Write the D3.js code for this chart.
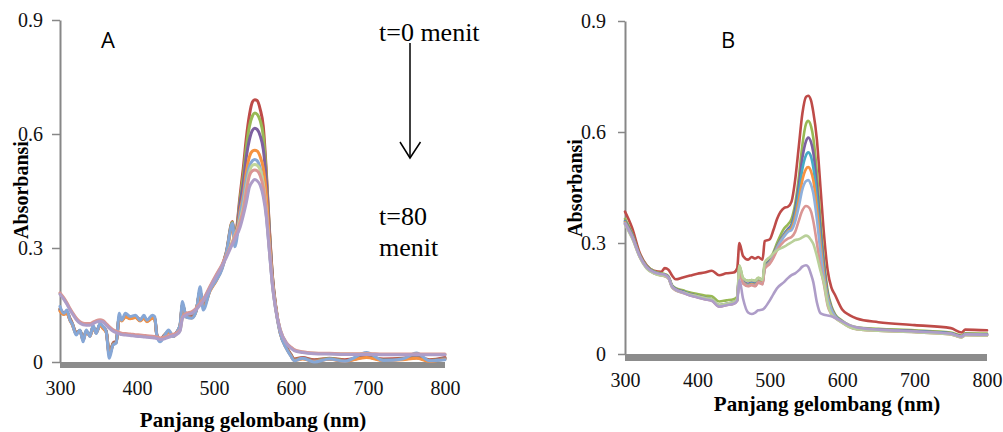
<!DOCTYPE html>
<html>
<head>
<meta charset="utf-8">
<script src="https://cdn.jsdelivr.net/npm/d3@7"></script>
<style>
  body { margin: 0; background: #fff; }
  svg { display: block; }
  .tick text { font-family: 'Liberation Serif', 'Times New Roman', serif; font-size: 20px; }
</style>
</head>
<body>
<svg width="1003" height="432"></svg>
<script>
(function () {
  'use strict';

  // ---------- data ----------
  const xTicks = [300, 400, 500, 600, 700, 800];
  const yTicks = [0, 0.3, 0.6, 0.9];
  const xTitle = "Panjang gelombang (nm)";
  const yTitle = "Absorbansi";

  // panel A wavelengths (nm)
  const waveA = [300,305,309,313,316,321,326,330,334,339,343,347,352,356,360,364,369,373,377,380,
    385,391,398,404,409,413,420,423,426,430,436,441,447,452,456,459,464,471,477,482,
    486,495,503,510,516,524,527,534,538,542,546,550,553,556,560,564,568,572,576,580,
    586,594,600,604,615,630,650,670,698,720,745,763,780,800];

  const redA = [0.140,0.130,0.132,0.115,0.102,0.078,0.082,0.062,0.080,0.072,
    0.092,0.080,0.098,0.092,0.082,0.025,0.050,0.055,0.118,0.112,
    0.122,0.117,0.120,0.112,0.118,0.110,0.118,0.116,0.070,0.060,
    0.072,0.080,0.070,0.080,0.098,0.150,0.122,0.120,0.138,0.185,
    0.150,0.192,0.220,0.250,0.290,0.370,0.330,0.440,0.510,0.590,
    0.650,0.685,0.690,0.688,0.665,0.620,0.500,0.350,0.225,0.150,
    0.080,0.040,0.020,0.008,0.012,0.006,0.010,0.006,0.015,0.008,
    0.010,0.014,0.006,0.012];
  const greenA = [0.138,0.127,0.130,0.112,0.100,0.076,0.083,0.060,0.081,0.070,
    0.093,0.078,0.099,0.090,0.080,0.022,0.048,0.053,0.120,0.110,
    0.121,0.116,0.119,0.110,0.117,0.108,0.117,0.115,0.068,0.058,
    0.071,0.081,0.069,0.079,0.097,0.152,0.120,0.118,0.137,0.188,
    0.148,0.191,0.218,0.248,0.288,0.368,0.325,0.430,0.490,0.565,
    0.620,0.648,0.655,0.652,0.635,0.595,0.490,0.345,0.222,0.148,
    0.078,0.038,0.018,0.006,0.010,0.004,0.009,0.004,0.014,0.006,
    0.008,0.012,0.004,0.010];
  const purpleA = [0.136,0.126,0.129,0.110,0.099,0.075,0.082,0.058,0.080,0.069,
    0.092,0.077,0.098,0.089,0.079,0.020,0.047,0.052,0.119,0.109,
    0.120,0.115,0.118,0.109,0.116,0.107,0.116,0.114,0.067,0.057,
    0.070,0.080,0.068,0.078,0.096,0.150,0.119,0.117,0.136,0.186,
    0.146,0.189,0.216,0.246,0.286,0.362,0.320,0.420,0.470,0.540,
    0.585,0.610,0.615,0.612,0.595,0.560,0.475,0.340,0.220,0.147,
    0.077,0.037,0.017,0.005,0.009,0.003,0.008,0.003,0.013,0.005,
    0.007,0.011,0.003,0.009];
  const orangeA = [0.134,0.125,0.128,0.109,0.098,0.074,0.081,0.057,0.079,0.068,
    0.091,0.076,0.097,0.088,0.078,0.018,0.046,0.051,0.118,0.108,
    0.119,0.114,0.117,0.108,0.115,0.106,0.115,0.113,0.066,0.056,
    0.069,0.079,0.067,0.077,0.095,0.148,0.118,0.116,0.135,0.184,
    0.144,0.187,0.214,0.244,0.284,0.355,0.315,0.400,0.440,0.500,
    0.540,0.555,0.557,0.555,0.540,0.510,0.440,0.320,0.210,0.145,
    0.076,0.036,0.016,0.004,0.008,0.002,0.007,0.002,0.012,0.004,
    0.006,0.010,0.002,0.008];
  const blueA = [0.146,0.128,0.137,0.110,0.100,0.071,0.084,0.053,0.084,0.067,
    0.097,0.075,0.102,0.093,0.080,0.010,0.045,0.050,0.128,0.110,
    0.128,0.120,0.123,0.110,0.123,0.110,0.123,0.119,0.067,0.053,
    0.070,0.084,0.067,0.079,0.100,0.159,0.118,0.115,0.135,0.198,
    0.137,0.190,0.215,0.242,0.286,0.365,0.303,0.390,0.430,0.480,
    0.515,0.530,0.533,0.530,0.510,0.465,0.385,0.290,0.200,0.140,
    0.075,0.035,0.015,0.003,0.010,0.000,0.008,0.002,0.025,0.004,
    0.008,0.024,0.003,0.006];
  const lgreenA = [0.180,0.167,0.154,0.139,0.129,0.114,0.104,0.100,0.099,0.099,
    0.103,0.107,0.109,0.107,0.099,0.091,0.083,0.079,0.076,0.074,
    0.073,0.072,0.070,0.069,0.068,0.067,0.066,0.065,0.064,0.061,
    0.063,0.067,0.071,0.075,0.084,0.116,0.126,0.130,0.140,0.153,
    0.163,0.198,0.228,0.253,0.278,0.318,0.332,0.375,0.410,0.460,
    0.500,0.518,0.520,0.518,0.505,0.470,0.400,0.300,0.205,0.142,
    0.085,0.050,0.038,0.032,0.026,0.023,0.022,0.021,0.021,0.020,
    0.020,0.020,0.020,0.020];
  const pinkA = [0.182,0.169,0.156,0.141,0.131,0.116,0.106,0.102,0.101,0.101,
    0.105,0.109,0.111,0.109,0.101,0.093,0.085,0.081,0.078,0.076,
    0.075,0.074,0.072,0.071,0.070,0.069,0.068,0.067,0.066,0.063,
    0.065,0.069,0.073,0.077,0.086,0.118,0.128,0.132,0.142,0.155,
    0.165,0.200,0.230,0.255,0.280,0.315,0.330,0.370,0.400,0.450,
    0.490,0.503,0.505,0.503,0.490,0.460,0.395,0.300,0.205,0.142,
    0.086,0.051,0.039,0.033,0.027,0.024,0.023,0.022,0.022,0.021,
    0.021,0.021,0.021,0.021];
  const lavenderA = [0.178,0.165,0.152,0.137,0.127,0.112,0.102,0.098,0.097,0.097,
    0.101,0.105,0.107,0.105,0.097,0.089,0.081,0.077,0.074,0.072,
    0.071,0.070,0.068,0.067,0.066,0.065,0.064,0.063,0.062,0.059,
    0.061,0.065,0.069,0.073,0.082,0.114,0.124,0.128,0.138,0.150,
    0.160,0.195,0.225,0.250,0.275,0.310,0.322,0.355,0.385,0.420,
    0.460,0.475,0.480,0.477,0.465,0.435,0.380,0.290,0.200,0.140,
    0.084,0.049,0.036,0.030,0.025,0.022,0.021,0.020,0.020,0.019,
    0.019,0.019,0.019,0.019];

  // panel B wavelengths (nm)
  const waveB = [300,310,320,330,340,350,355,360,365,370,380,390,400,410,420,430,440,450,455,458,
    463,470,475,480,484,490,493,500,505,510,520,525,530,535,540,545,550,553,557,560,
    565,570,575,580,585,590,600,610,620,650,700,750,765,770,800];

  const redB = [0.385,0.340,0.275,0.240,0.225,0.222,0.232,0.228,0.212,0.202,
    0.207,0.212,0.217,0.220,0.225,0.213,0.218,0.220,0.232,0.300,
    0.265,0.255,0.262,0.258,0.262,0.255,0.305,0.310,0.335,0.365,
    0.395,0.398,0.412,0.470,0.560,0.650,0.695,0.698,0.685,0.655,
    0.580,0.450,0.320,0.225,0.180,0.160,0.120,0.105,0.096,0.086,
    0.078,0.070,0.058,0.066,0.064];
  const greenB = [0.365,0.325,0.270,0.238,0.224,0.218,0.216,0.210,0.186,0.178,
    0.172,0.166,0.162,0.158,0.156,0.142,0.145,0.148,0.155,0.238,
    0.205,0.198,0.200,0.198,0.206,0.200,0.242,0.255,0.275,0.300,
    0.340,0.350,0.365,0.405,0.475,0.565,0.622,0.630,0.615,0.585,
    0.490,0.360,0.250,0.170,0.130,0.108,0.090,0.078,0.072,0.068,
    0.064,0.058,0.050,0.056,0.055];
  const purpleB = [0.360,0.322,0.268,0.236,0.222,0.216,0.214,0.208,0.184,0.176,
    0.169,0.162,0.157,0.152,0.148,0.132,0.136,0.140,0.148,0.232,
    0.198,0.190,0.193,0.190,0.200,0.195,0.238,0.252,0.270,0.292,
    0.325,0.338,0.350,0.390,0.455,0.530,0.575,0.585,0.572,0.545,
    0.455,0.335,0.235,0.162,0.125,0.105,0.088,0.076,0.070,0.066,
    0.062,0.056,0.048,0.054,0.053];
  const tealB = [0.358,0.320,0.267,0.235,0.221,0.215,0.213,0.207,0.183,0.175,
    0.168,0.161,0.156,0.151,0.147,0.131,0.135,0.139,0.147,0.230,
    0.196,0.188,0.191,0.188,0.198,0.193,0.236,0.250,0.268,0.290,
    0.323,0.335,0.345,0.378,0.435,0.500,0.537,0.545,0.533,0.505,
    0.425,0.315,0.222,0.158,0.123,0.104,0.087,0.075,0.069,0.065,
    0.061,0.055,0.047,0.053,0.052];
  const orangeB = [0.356,0.318,0.266,0.234,0.220,0.214,0.212,0.206,0.182,0.174,
    0.167,0.160,0.155,0.150,0.146,0.130,0.134,0.138,0.146,0.228,
    0.194,0.186,0.189,0.186,0.196,0.191,0.234,0.248,0.266,0.288,
    0.320,0.332,0.340,0.368,0.415,0.470,0.500,0.505,0.493,0.470,
    0.395,0.295,0.212,0.153,0.121,0.103,0.086,0.074,0.068,0.064,
    0.060,0.054,0.046,0.052,0.051];
  const lblueB = [0.354,0.316,0.265,0.233,0.219,0.213,0.211,0.205,0.181,0.173,
    0.166,0.159,0.154,0.149,0.145,0.129,0.133,0.137,0.145,0.226,
    0.192,0.184,0.187,0.184,0.194,0.189,0.232,0.246,0.264,0.286,
    0.318,0.330,0.335,0.358,0.398,0.445,0.467,0.470,0.457,0.435,
    0.365,0.275,0.200,0.148,0.119,0.102,0.086,0.074,0.068,0.064,
    0.060,0.054,0.046,0.052,0.051];
  const pinkB = [0.352,0.314,0.264,0.232,0.218,0.212,0.210,0.204,0.180,0.172,
    0.165,0.158,0.153,0.148,0.144,0.128,0.132,0.136,0.144,0.225,
    0.190,0.183,0.186,0.183,0.193,0.188,0.230,0.244,0.260,0.280,
    0.305,0.312,0.316,0.330,0.360,0.388,0.400,0.398,0.385,0.360,
    0.300,0.235,0.185,0.130,0.108,0.098,0.085,0.073,0.067,0.063,
    0.059,0.053,0.045,0.051,0.050];
  const lgreenB = [0.350,0.312,0.263,0.231,0.218,0.212,0.211,0.205,0.181,0.173,
    0.166,0.160,0.156,0.151,0.148,0.132,0.136,0.140,0.150,0.240,
    0.205,0.198,0.200,0.198,0.205,0.200,0.248,0.262,0.272,0.280,
    0.290,0.296,0.302,0.308,0.310,0.315,0.320,0.318,0.308,0.298,
    0.265,0.225,0.190,0.135,0.108,0.098,0.085,0.073,0.067,0.063,
    0.059,0.053,0.045,0.051,0.050];
  const lavenderB = [0.352,0.316,0.266,0.234,0.221,0.216,0.214,0.207,0.182,0.174,
    0.166,0.158,0.153,0.148,0.144,0.128,0.132,0.136,0.144,0.200,
    0.150,0.112,0.108,0.112,0.118,0.120,0.125,0.145,0.162,0.178,
    0.195,0.205,0.213,0.218,0.226,0.236,0.240,0.236,0.215,0.195,
    0.140,0.110,0.106,0.104,0.102,0.098,0.088,0.078,0.072,0.066,
    0.061,0.055,0.047,0.053,0.052];

  const seriesA = [
    {values: redA, color: "#BE4B48"},
    {values: greenA, color: "#98B954"},
    {values: purpleA, color: "#7D60A0"},
    {values: orangeA, color: "#F69240"},
    {values: blueA, color: "#86A7D6"},
    {values: lgreenA, color: "#C0D59A"},
    {values: pinkA, color: "#DA9694"},
    {values: lavenderA, color: "#AE9DC8"}
  ];
  const seriesB = [
    {values: redB, color: "#BE4B48"},
    {values: greenB, color: "#98B954"},
    {values: purpleB, color: "#7D60A0"},
    {values: tealB, color: "#46AAC5"},
    {values: orangeB, color: "#F69240"},
    {values: lblueB, color: "#8EB0DC"},
    {values: pinkB, color: "#DA9694"},
    {values: lgreenB, color: "#B9D09A"},
    {values: lavenderB, color: "#AE9DC8"}
  ];

  // ---------- drawing ----------
  const svg = d3.select("svg");
  svg.append("rect").attr("width", 1003).attr("height", 432).attr("fill", "#fff");

  const serif = "'Liberation Serif','Times New Roman',serif";
  const axisGray = "#878787";

  function drawPanel(p, waves, series) {
    const x = d3.scaleLinear().domain([300, 800]).range([p.left, p.right]);
    const y = d3.scaleLinear().domain([0, 0.9]).range([p.bottom, p.top]);
    const g = svg.append("g");

    // y axis
    const ya = g.append("g")
      .attr("transform", `translate(${p.left},0)`)
      .call(d3.axisLeft(y).tickValues(yTicks).tickSize(p.tick).tickSizeOuter(0)
        .tickPadding(p.ypad).tickFormat(d => d === 0 ? "0" : d3.format(".1f")(d)));
    ya.attr("font-family", null).attr("font-size", null);
    ya.select(".domain").attr("stroke", axisGray).attr("stroke-width", 2);
    ya.selectAll(".tick line").attr("stroke", axisGray).attr("stroke-width", 1.5);
    ya.selectAll("text").style("font-family", serif).style("font-size", "20px").attr("fill", "#111");

    // x axis (thick gray base band)
    g.append("rect")
      .attr("x", x(300)).attr("y", y(0))
      .attr("width", x(800) - x(300)).attr("height", p.band)
      .attr("fill", "#8c8c8c");
    const xa = g.append("g")
      .attr("transform", `translate(0,${y(0)})`)
      .call(d3.axisBottom(x).tickValues(xTicks).tickSize(0).tickPadding(p.xpad));
    xa.attr("font-family", null).attr("font-size", null);
    xa.select(".domain").remove();
    xa.selectAll("text").style("font-family", serif).style("font-size", "20px").attr("fill", "#111");

    // spectra
    const line = d3.line()
      .x((d, i) => x(waves[i]))
      .y(d => y(d))
      .curve(d3.curveMonotoneX);
    g.selectAll("path.spec")
      .data(series)
      .enter()
      .append("path")
      .attr("class", "spec")
      .attr("d", s => line(s.values))
      .attr("fill", "none")
      .attr("stroke", s => s.color)
      .attr("stroke-width", p.lw)
      .attr("stroke-linejoin", "round")
      .attr("stroke-linecap", "round");

    // titles
    g.append("text")
      .attr("x", p.xtX).attr("y", p.xtY)
      .attr("text-anchor", "middle")
      .style("font-family", serif).attr("font-weight", "bold").attr("font-size", 21)
      .text(xTitle);
    g.append("text")
      .attr("transform", `translate(${p.ytX},${p.ytY}) rotate(-90)`)
      .attr("text-anchor", "middle")
      .style("font-family", serif).attr("font-weight", "bold").attr("font-size", 20)
      .text(yTitle);
    g.append("text")
      .attr("x", p.labX).attr("y", 48)
      .style("font-family", "'Open Sans','Liberation Sans',sans-serif").attr("font-size", 22)
      .text(p.label);
  }

  drawPanel({label: "A", left: 60, right: 445, top: 20, bottom: 362, tick: 8, ypad: 9, xpad: 19,
    band: 6, lw: 3, xtX: 253, xtY: 427, ytX: 28, ytY: 190, labX: 101}, waveA, seriesA);
  drawPanel({label: "B", left: 625, right: 987, top: 21, bottom: 354, tick: 7, ypad: 12, xpad: 19,
    band: 7, lw: 2.6, xtX: 827, xtY: 411, ytX: 582, ytY: 188, labX: 721}, waveB, seriesB);

  // time annotation in panel A
  const ann = svg.append("g").style("font-family", serif).attr("font-size", 26).attr("fill", "#000");
  ann.append("text").attr("x", 379).attr("y", 41).text("t=0 menit");
  ann.append("text").attr("x", 379).attr("y", 225).text("t=80");
  ann.append("text").attr("x", 379).attr("y", 256).text("menit");
  svg.append("line")
    .attr("x1", 410).attr("y1", 43).attr("x2", 410).attr("y2", 158)
    .attr("stroke", "#000").attr("stroke-width", 1.5);
  svg.append("path")
    .attr("d", "M400,142 L410,158 L420.5,142")
    .attr("fill", "none").attr("stroke", "#000").attr("stroke-width", 1.5);
}());
</script>
</body>
</html>
